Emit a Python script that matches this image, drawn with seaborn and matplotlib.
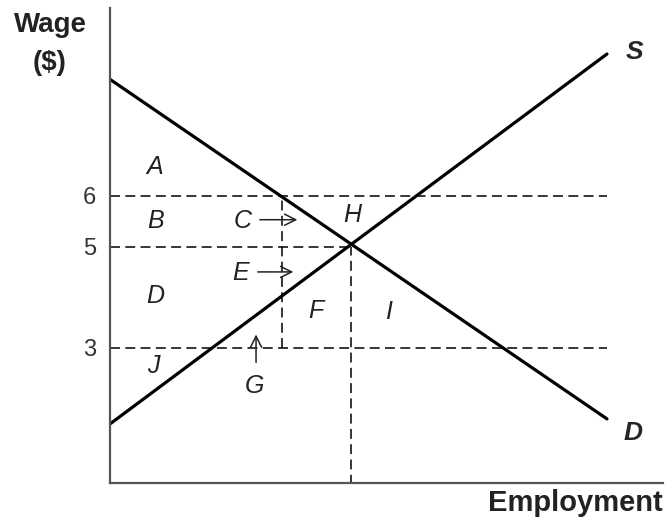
import numpy as np
import pandas as pd
import seaborn as sns
import matplotlib.pyplot as plt

# curve endpoints (employment, wage)
demand_emp = [0.0, 9.8]
demand_wage = [8.3, 1.6]
supply_emp = [0.0, 9.8]
supply_wage = [1.5, 8.8]

wage_ticks = [3, 5, 6]
wage_ticklabels = ["3", "5", "6"]

# region labels
area_labels = ["A", "B", "C", "H", "E", "D", "F", "I", "J", "G"]
area_emp = [0.87, 0.89, 2.61, 4.78, 2.57, 0.89, 4.05, 5.49, 0.85, 2.84]
area_wage = [6.57, 5.51, 5.51, 5.62, 4.48, 4.03, 3.73, 3.71, 2.64, 2.25]

# guide levels
high_wage, eq_wage, low_wage = 6, 5, 3
shortage_emp = 3.4
right_end = 9.8

sns.set_style("white")
plt.rcParams["font.family"] = ["Liberation Sans", "DejaVu Sans"]

df = pd.concat([
    pd.DataFrame({"Employment": demand_emp, "Wage": demand_wage, "curve": "D"}),
    pd.DataFrame({"Employment": supply_emp, "Wage": supply_wage, "curve": "S"}),
])

# equilibrium from the two lines
sd = np.polyfit(demand_emp, demand_wage, 1)
ss = np.polyfit(supply_emp, supply_wage, 1)
eq_emp = (ss[1] - sd[1]) / (sd[0] - ss[0])

fig = plt.figure(figsize=(6.65, 5.25), dpi=100)
ax = fig.add_axes([0.1654, 0.08, 0.832, 0.905])

sns.lineplot(data=df, x="Employment", y="Wage", units="curve", estimator=None,
             color="black", lw=2.3, ax=ax, legend=False)

dash = dict(color="black", lw=1.1, ls=(0, (6.5, 3.5)))
ax.plot([0, right_end], [high_wage, high_wage], **dash)
ax.plot([0, eq_emp], [eq_wage, eq_wage], **dash)
ax.plot([0, right_end], [low_wage, low_wage], **dash)
ax.plot([shortage_emp, shortage_emp], [low_wage, high_wage], **dash)
ax.plot([eq_emp, eq_emp], [0, eq_wage], **dash)

ax.set_xlim(0, 10.91)
ax.set_ylim(0.335, 9.71)

for lab, x, y in zip(area_labels, area_emp, area_wage):
    ax.text(x, y, lab, fontsize=18, style="italic", ha="center", va="center",
            color="#222222")

arr = dict(arrowstyle="->", color="#222222", lw=1.1, mutation_scale=20)
ax.annotate("", xy=(3.75, 5.53), xytext=(2.9, 5.53), arrowprops=arr)
ax.annotate("", xy=(3.67, 4.50), xytext=(2.86, 4.50), arrowprops=arr)
ax.annotate("", xy=(2.88, 3.32), xytext=(2.88, 2.66), arrowprops=arr)

ax.text(10.34, 8.84, "S", fontsize=19, style="italic", weight="bold",
        ha="center", va="center")
ax.text(10.32, 1.32, "D", fontsize=19, style="italic", weight="bold",
        ha="center", va="center")

ax.set_yticks(wage_ticks)
ax.set_yticklabels(wage_ticklabels, fontsize=17, color="#333333")
ax.set_xticks([])
ax.tick_params(axis="y", length=0, pad=10)
ax.set_xlabel("")
ax.set_ylabel("")

for side in ["top", "right"]:
    ax.spines[side].set_visible(False)
for side in ["left", "bottom"]:
    ax.spines[side].set_color("#555555")
    ax.spines[side].set_linewidth(1.6)

fig.text(50 / 665, 1 - 25 / 525, "Wage", fontsize=20, weight="bold",
         ha="center", va="center", color="#222222")
fig.text(50 / 665, 1 - 63 / 525, "($)", fontsize=20, weight="bold",
         ha="center", va="center", color="#222222")
fig.text(0.997, 1 - 503 / 525, "Employment", fontsize=21, weight="bold",
         ha="right", va="center", color="#222222")

fig.savefig("out.png", dpi=100)
